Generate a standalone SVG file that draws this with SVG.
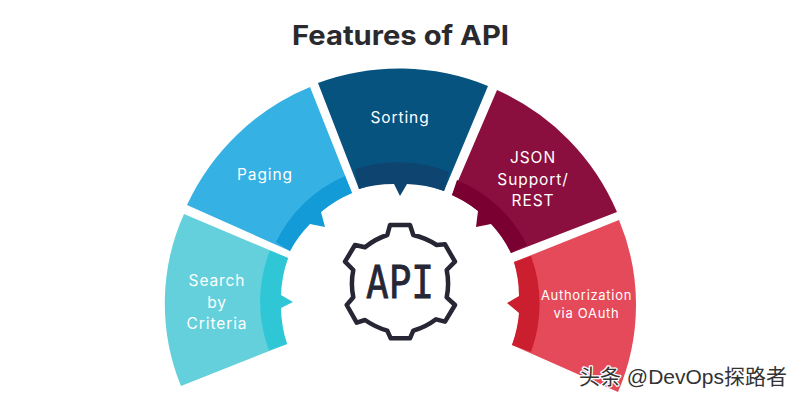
<svg xmlns="http://www.w3.org/2000/svg" width="800" height="400" viewBox="0 0 800 400">
<style>
.l{font-family:"Inter","Liberation Sans",sans-serif;font-size:15.500px;fill:#fff;text-anchor:middle;font-weight:400;letter-spacing:.9px}
.s{font-size:13px;letter-spacing:.7px}
</style>
<rect width="800" height="400" fill="#fff"/>
<text x="400.500" y="45" font-family="Inter,'Liberation Sans',sans-serif" font-size="27" font-weight="700" fill="#2a2a2e" text-anchor="middle" textLength="217" lengthAdjust="spacingAndGlyphs">Features of API</text>
<g id="search">
<path fill="#63d0dc" d="M184 214A218 218 0 0 0 181 386L287 344A119 119 0 0 1 288 258Z"/>
<path fill="#2fc6d6" d="M270 250.500A138 138 0 0 0 269 350.500L287 344A125 125 0 0 1 281 308L293 302L281 295A125 125 0 0 1 288 258Z"/>
<text class="l"><tspan x="217" y="286">Search</tspan><tspan x="217" y="307.500">by</tspan><tspan x="217" y="329">Criteria</tspan></text>
</g>
<g id="paging">
<path fill="#35b1e4" d="M187 205A234 234 0 0 1 310 87L352 193A119 119 0 0 0 290 251Z"/>
<path fill="#129bd6" d="M276 242A138 138 0 0 1 345 176L352 193A119 119 0 0 0 321 212L325 227L310 224A119 119 0 0 0 290 251Z"/>
<text class="l" x="265" y="180">Paging</text>
</g>
<g id="sorting">
<path fill="#075380" d="M318 83A234 234 0 0 1 488 86L444 191A119 119 0 0 0 359 189Z"/>
<path fill="#0e4570" d="M355 169A138 138 0 0 1 449 172L444 191A119 119 0 0 0 407 184L400 196L394 184A119 119 0 0 0 359 189Z"/>
<text class="l" x="400" y="123">Sorting</text>
</g>
<g id="json">
<path fill="#8b0f3e" d="M497 90A234 234 0 0 1 617 212L511 253A119 119 0 0 0 452 195Z"/>
<path fill="#7a0032" d="M457 180A138 138 0 0 1 527 245L511 253A119 119 0 0 0 491 224L476 227L478 211A119 119 0 0 0 452 195Z"/>
<text class="l"><tspan x="533" y="163">JSON</tspan><tspan x="533" y="184.500">Support/</tspan><tspan x="533" y="206">REST</tspan></text>
</g>
<g id="auth">
<path fill="#e44a5a" d="M619 220A220 220 0 0 1 618 392L512 345A119 119 0 0 0 514 262Z"/>
<path fill="#cb1f30" d="M531 256A138 138 0 0 1 531 352L512 345A125 125 0 0 0 519 313L507 303L519 296A125 125 0 0 0 514 262Z"/>
<text class="l s"><tspan x="586.500" y="300">Authorization</tspan><tspan x="586.500" y="318">via OAuth</tspan></text>
</g>
<g id="api">
<path fill="none" stroke="#262634" stroke-width="4.500" stroke-linejoin="round" d="M390 225H410L413.300 235Q426 238 436.700 245L445 244.300L455 261.700L446.700 270Q449.500 284 446.700 297.300L455 305L445 321.700L436 319.300Q426 327 413.300 330.700L410 338.300H390.700L387.300 330.700Q375 327 365 320L356.700 322.700L346.700 305L353.300 297.300Q350.500 284 353.300 270L345 261.700L355 245L365 247.300Q375 239 387.300 235Z"/>
<text x="400" y="298" font-family="'DejaVu Sans Mono',monospace" font-size="45" font-weight="400" fill="#262634" stroke="#262634" stroke-width=".8" text-anchor="middle" textLength="68" lengthAdjust="spacingAndGlyphs">API</text>
</g>
<text x="579" y="384" font-family="'Liberation Sans','Noto Sans CJK SC',sans-serif" font-size="21" fill="#333" stroke="#fff" stroke-width="2.500" paint-order="stroke" stroke-linejoin="round">头条 @DevOps探路者</text>
</svg>
